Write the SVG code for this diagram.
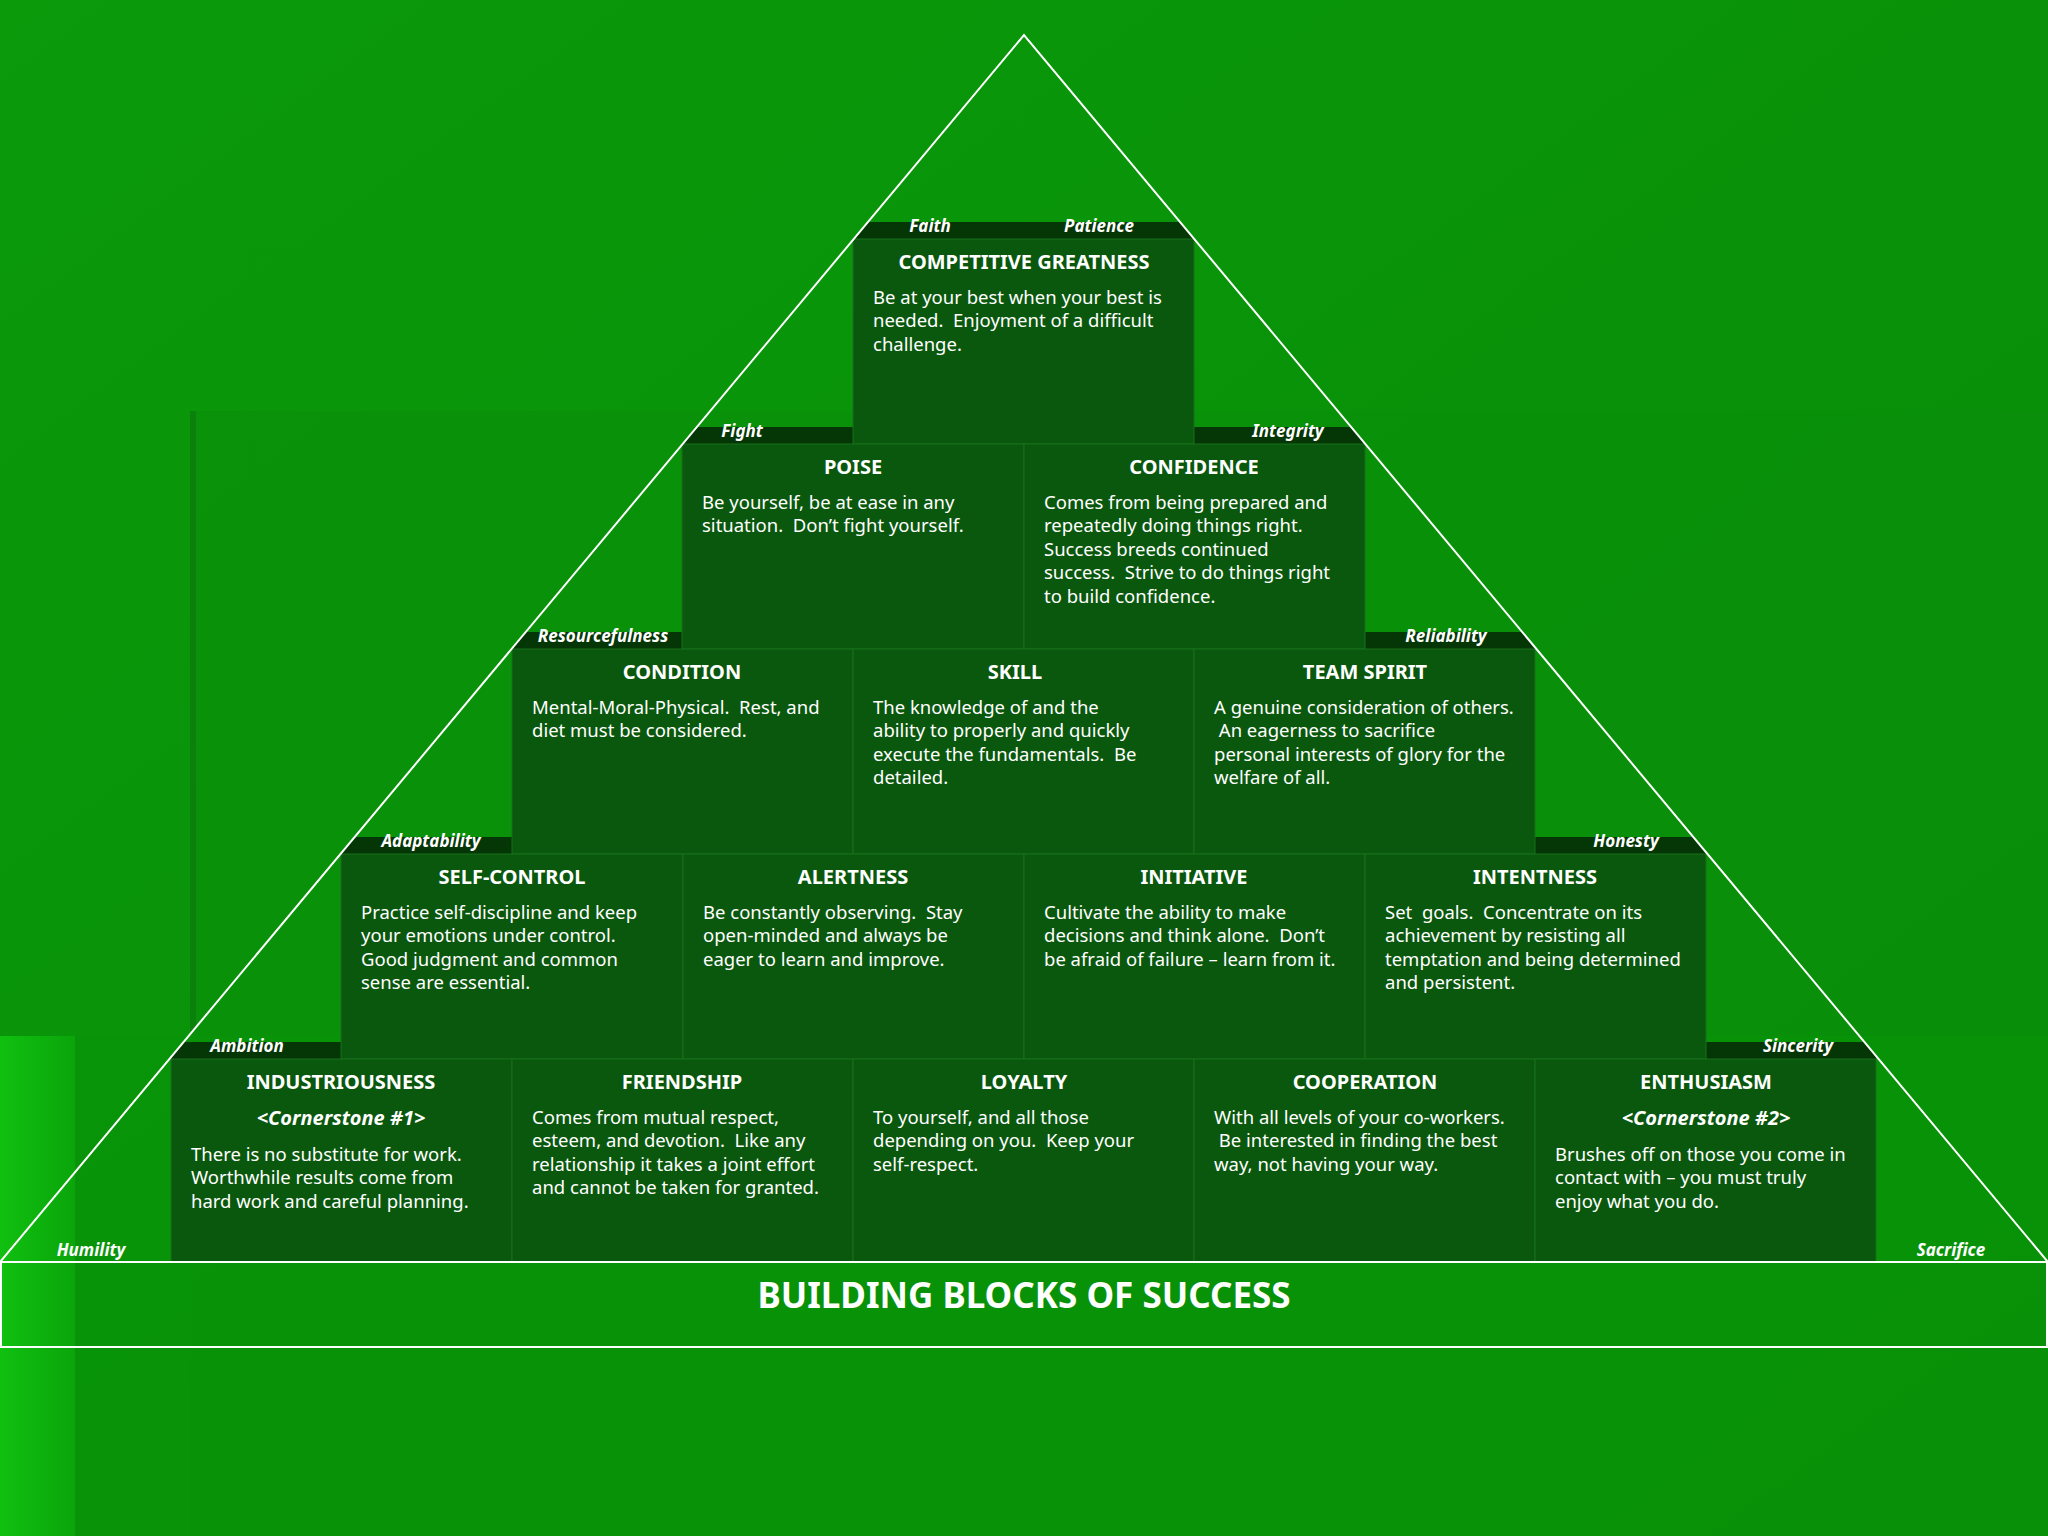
<svg xmlns="http://www.w3.org/2000/svg" width="2048" height="1536" viewBox="0 0 2048 1536">
<defs>
<linearGradient id="bg" x1="0" y1="0" x2="1" y2="1"><stop offset="0" stop-color="#0a9a0a"/><stop offset="1" stop-color="#088a08"/></linearGradient>
<linearGradient id="side" x1="0" y1="0" x2="1" y2="0"><stop offset="0" stop-color="#10c010"/><stop offset="1" stop-color="#0aa50a"/></linearGradient>
<clipPath id="tri"><polygon points="0,1262 1024,35 2048,1262"/></clipPath>
<style>
.blk{fill:#0a580d;stroke:#16701a;stroke-width:1}
.strip{fill:#053605}
.t{font-family:"Noto Sans","DejaVu Sans",sans-serif;font-weight:bold;font-size:20px;fill:#fff;text-anchor:middle}
.b{font-family:"Noto Sans","DejaVu Sans",sans-serif;font-size:18.5px;fill:#fff;white-space:pre}
.l{font-family:"Noto Sans","DejaVu Sans",sans-serif;font-weight:bold;font-style:italic;font-size:17px;fill:#fff;text-anchor:middle}
</style>
</defs>
<rect width="2048" height="1536" fill="url(#bg)"/>
<rect x="190" y="411" width="1858" height="1125" fill="#0a8f0a" opacity="0.6"/>
<rect x="75" y="1036" width="1973" height="500" fill="#089408" opacity="0.6"/>
<rect x="0" y="1036" width="75" height="500" fill="url(#side)"/>
<rect x="190" y="411" width="6" height="620" fill="#0c7a0c" opacity="0.7"/>

<g id="strips" clip-path="url(#tri)">
<rect class="strip" x="853" y="222" width="341" height="17"/>
<rect class="strip" x="682" y="427" width="171" height="17"/><rect class="strip" x="1194" y="427" width="171" height="17"/>
<rect class="strip" x="512" y="632" width="170" height="17"/><rect class="strip" x="1365" y="632" width="170" height="17"/>
<rect class="strip" x="341" y="837" width="171" height="17"/><rect class="strip" x="1535" y="837" width="171" height="17"/>
<rect class="strip" x="171" y="1042" width="170" height="17"/><rect class="strip" x="1706" y="1042" width="170" height="17"/>
</g>

<g id="labels">
<text class="l" x="930" y="232">Faith</text><text class="l" x="1099" y="232">Patience</text>
<text class="l" x="742" y="437">Fight</text><text class="l" x="1288" y="437">Integrity</text>
<text class="l" x="603" y="642">Resourcefulness</text><text class="l" x="1446" y="642">Reliability</text>
<text class="l" x="431" y="847">Adaptability</text><text class="l" x="1626" y="847">Honesty</text>
<text class="l" x="247" y="1052">Ambition</text><text class="l" x="1798" y="1052">Sincerity</text>
<text class="l" x="91" y="1256">Humility</text><text class="l" x="1951" y="1256">Sacrifice</text>
</g>

<g id="n-competitive"><rect class="blk" x="853" y="239" width="341" height="205"/>
<text class="t" x="1024" y="269">COMPETITIVE GREATNESS</text>
<text class="b" x="873" y="304">Be at your best when your best is</text><text class="b" x="873" y="327">needed.  Enjoyment of a difficult</text><text class="b" x="873" y="351">challenge.</text></g>

<g id="n-poise"><rect class="blk" x="682" y="444" width="342" height="205"/>
<text class="t" x="853" y="474">POISE</text>
<text class="b" x="702" y="509">Be yourself, be at ease in any</text><text class="b" x="702" y="532">situation.  Don’t fight yourself.</text></g>
<g id="n-confidence"><rect class="blk" x="1024" y="444" width="341" height="205"/>
<text class="t" x="1194" y="474">CONFIDENCE</text>
<text class="b" x="1044" y="509">Comes from being prepared and</text><text class="b" x="1044" y="532">repeatedly doing things right.</text><text class="b" x="1044" y="556">Success breeds continued</text><text class="b" x="1044" y="579">success.  Strive to do things right</text><text class="b" x="1044" y="603">to build confidence.</text></g>

<g id="n-condition"><rect class="blk" x="512" y="649" width="341" height="205"/>
<text class="t" x="682" y="679">CONDITION</text>
<text class="b" x="532" y="714">Mental-Moral-Physical.  Rest, and</text><text class="b" x="532" y="737">diet must be considered.</text></g>
<g id="n-skill"><rect class="blk" x="853" y="649" width="341" height="205"/>
<text class="t" x="1015" y="679">SKILL</text>
<text class="b" x="873" y="714">The knowledge of and the</text><text class="b" x="873" y="737">ability to properly and quickly</text><text class="b" x="873" y="761">execute the fundamentals.  Be</text><text class="b" x="873" y="784">detailed.</text></g>
<g id="n-teamspirit"><rect class="blk" x="1194" y="649" width="341" height="205"/>
<text class="t" x="1365" y="679">TEAM SPIRIT</text>
<text class="b" x="1214" y="714">A genuine consideration of others.</text><text class="b" x="1214" y="737"> An eagerness to sacrifice</text><text class="b" x="1214" y="761">personal interests of glory for the</text><text class="b" x="1214" y="784">welfare of all.</text></g>

<g id="n-selfcontrol"><rect class="blk" x="341" y="854" width="342" height="205"/>
<text class="t" x="512" y="884">SELF-CONTROL</text>
<text class="b" x="361" y="919">Practice self-discipline and keep</text><text class="b" x="361" y="942">your emotions under control.</text><text class="b" x="361" y="966">Good judgment and common</text><text class="b" x="361" y="989">sense are essential.</text></g>
<g id="n-alertness"><rect class="blk" x="683" y="854" width="341" height="205"/>
<text class="t" x="853" y="884">ALERTNESS</text>
<text class="b" x="703" y="919">Be constantly observing.  Stay</text><text class="b" x="703" y="942">open-minded and always be</text><text class="b" x="703" y="966">eager to learn and improve.</text></g>
<g id="n-initiative"><rect class="blk" x="1024" y="854" width="341" height="205"/>
<text class="t" x="1194" y="884">INITIATIVE</text>
<text class="b" x="1044" y="919">Cultivate the ability to make</text><text class="b" x="1044" y="942">decisions and think alone.  Don’t</text><text class="b" x="1044" y="966">be afraid of failure – learn from it.</text></g>
<g id="n-intentness"><rect class="blk" x="1365" y="854" width="341" height="205"/>
<text class="t" x="1535" y="884">INTENTNESS</text>
<text class="b" x="1385" y="919">Set  goals.  Concentrate on its</text><text class="b" x="1385" y="942">achievement by resisting all</text><text class="b" x="1385" y="966">temptation and being determined</text><text class="b" x="1385" y="989">and persistent.</text></g>

<g id="n-industriousness"><rect class="blk" x="171" y="1059" width="341" height="203"/>
<text class="t" x="341" y="1089">INDUSTRIOUSNESS</text>
<text class="t" x="341" y="1125" font-style="italic">&lt;Cornerstone #1&gt;</text>
<text class="b" x="191" y="1161">There is no substitute for work.</text><text class="b" x="191" y="1184">Worthwhile results come from</text><text class="b" x="191" y="1208">hard work and careful planning.</text></g>
<g id="n-friendship"><rect class="blk" x="512" y="1059" width="341" height="203"/>
<text class="t" x="682" y="1089">FRIENDSHIP</text>
<text class="b" x="532" y="1124">Comes from mutual respect,</text><text class="b" x="532" y="1147">esteem, and devotion.  Like any</text><text class="b" x="532" y="1171">relationship it takes a joint effort</text><text class="b" x="532" y="1194">and cannot be taken for granted.</text></g>
<g id="n-loyalty"><rect class="blk" x="853" y="1059" width="341" height="203"/>
<text class="t" x="1024" y="1089">LOYALTY</text>
<text class="b" x="873" y="1124">To yourself, and all those</text><text class="b" x="873" y="1147">depending on you.  Keep your</text><text class="b" x="873" y="1171">self-respect.</text></g>
<g id="n-cooperation"><rect class="blk" x="1194" y="1059" width="341" height="203"/>
<text class="t" x="1365" y="1089">COOPERATION</text>
<text class="b" x="1214" y="1124">With all levels of your co-workers.</text><text class="b" x="1214" y="1147"> Be interested in finding the best</text><text class="b" x="1214" y="1171">way, not having your way.</text></g>
<g id="n-enthusiasm"><rect class="blk" x="1535" y="1059" width="341" height="203"/>
<text class="t" x="1706" y="1089">ENTHUSIASM</text>
<text class="t" x="1706" y="1125" font-style="italic">&lt;Cornerstone #2&gt;</text>
<text class="b" x="1555" y="1161">Brushes off on those you come in</text><text class="b" x="1555" y="1184">contact with – you must truly</text><text class="b" x="1555" y="1208">enjoy what you do.</text></g>

<g id="connectors" fill="none" stroke="#fff" stroke-width="2">
<polyline points="0,1262 1024,35 2048,1262"/>
<rect x="1" y="1262" width="2046" height="85"/>
</g>
<g id="title"><text x="1024" y="1308" font-family="Noto Sans,DejaVu Sans,sans-serif" font-weight="bold" font-size="35" fill="#fff" text-anchor="middle">BUILDING BLOCKS OF SUCCESS</text></g>
</svg>
